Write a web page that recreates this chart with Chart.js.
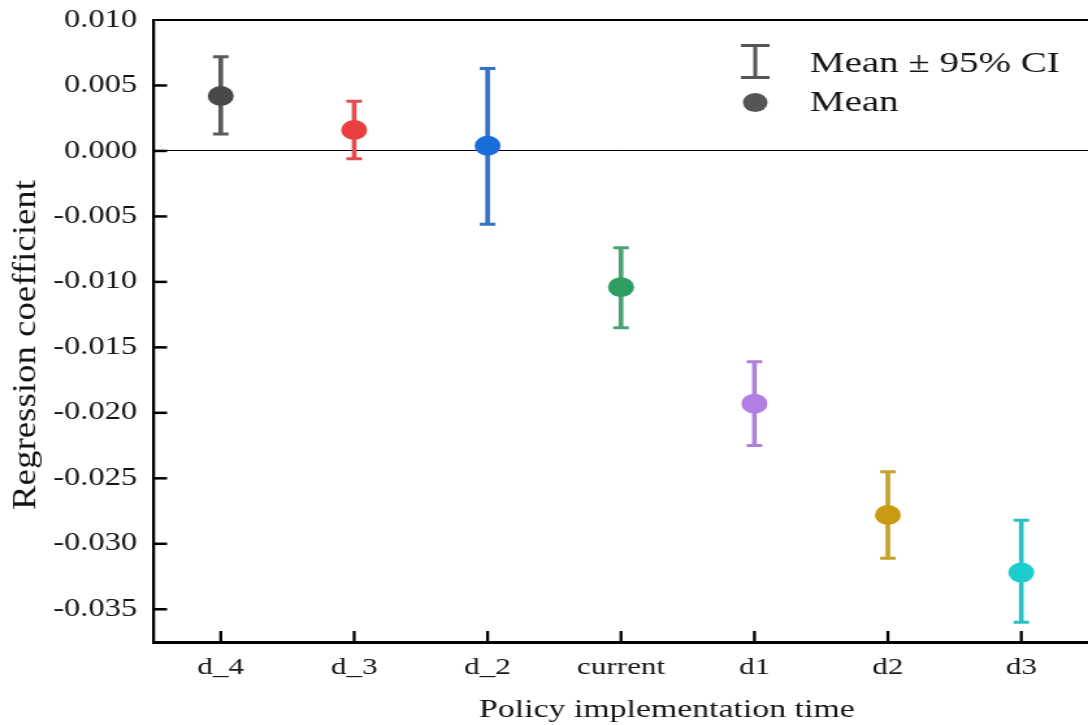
<!DOCTYPE html>
<html>
<head>
<meta charset="utf-8">
<script src="https://cdn.jsdelivr.net/npm/chart.js@4.4.1/dist/chart.umd.min.js"></script>
<style>
  html, body { margin: 0; padding: 0; background: #fff; overflow: hidden; }
  #chart { display: block; }
</style>
</head>
<body>
<!-- the reference is stretched sideways, so the canvas is drawn narrow and widened by its inline style -->
<canvas id="chart" width="837" height="725" style="width:1088px;height:725px"></canvas>
<script>
const categories = ['d_4', 'd_3', 'd_2', 'current', 'd1', 'd2', 'd3'];
const means  = [0.0042, 0.0016, 0.0004, -0.0104, -0.0193, -0.0278, -0.0322];
const ciLow  = [0.0013, -0.0006, -0.0056, -0.0135, -0.0225, -0.0311, -0.0360];
const ciHigh = [0.0072, 0.0038, 0.0063, -0.0074, -0.0161, -0.0245, -0.0282];
const yTicks = [0.010, 0.005, 0, -0.005, -0.010, -0.015, -0.020, -0.025, -0.030, -0.035];
const legendLabels = ['Mean \u00b1 95% CI', 'Mean'];
const xTitle = 'Policy implementation time';
const yTitle = 'Regression coefficient';

const dotColors = ['#494949', '#e8403f', '#1b6ddb', '#2e9e62', '#b27ee4', '#c99a12', '#1ccdcf'];
const barColors = ['#5a5a5a', '#e24c4c', '#3172c4', '#48a372', '#ae80da', '#c6a22a', '#2cc0c4'];

const FONT = "'Liberation Serif', 'Times New Roman', serif";
const INK = '#151515';

function line(ctx, x1, y1, x2, y2) {
    ctx.beginPath();
    ctx.moveTo(x1, y1);
    ctx.lineTo(x2, y2);
    ctx.stroke();
}

// inward ticks, axis titles and the legend
const decor = {
    id: 'decor',
    afterDraw(chart) {
        const { ctx, chartArea: area, scales: { x, y } } = chart;
        ctx.save();
        ctx.strokeStyle = '#000';
        ctx.lineCap = 'butt';

        ctx.lineWidth = 2.5;
        yTicks.forEach(v => {
            if (v === yTicks[0]) return;
            const py = y.getPixelForValue(v);
            line(ctx, area.left, py, area.left + 10, py);
        });
        ctx.lineWidth = 2.3;
        categories.forEach((c, i) => {
            const px = x.getPixelForTick(i);
            line(ctx, px, area.bottom, px, area.bottom - 11);
        });

        ctx.fillStyle = INK;
        ctx.textBaseline = 'alphabetic';

        // x title sits a bit right of the plot centre in the source
        ctx.font = `26px ${FONT}`;
        ctx.textAlign = 'center';
        ctx.fillText(xTitle, 513, 717);

        // y title, stretched along its length like the source
        ctx.save();
        ctx.font = `25px ${FONT}`;
        const w = ctx.measureText(yTitle).width;
        ctx.translate(26.5, 345);
        ctx.rotate(-Math.PI / 2);
        ctx.scale(330 / w, 1);
        ctx.fillText(yTitle, 0, 0);
        ctx.restore();

        // legend
        const lx = 581;
        ctx.strokeStyle = '#555';
        ctx.lineWidth = 3;
        line(ctx, lx, 44, lx, 79);
        line(ctx, lx - 11, 45.5, lx + 11, 45.5);
        line(ctx, lx - 11, 77.5, lx + 11, 77.5);
        ctx.fillStyle = '#555';
        ctx.beginPath();
        ctx.arc(lx, 102.5, 9.5, 0, Math.PI * 2);
        ctx.fill();

        ctx.fillStyle = INK;
        ctx.font = `30px ${FONT}`;
        ctx.textAlign = 'left';
        ctx.fillText(legendLabels[0], 623, 72);
        ctx.fillText(legendLabels[1], 623, 111);
        ctx.restore();
    }
};

new Chart(document.getElementById('chart'), {
    type: 'bar',
    data: {
        labels: categories,
        datasets: [
            {
                type: 'line',
                label: 'Mean',
                data: means,
                showLine: false,
                pointStyle: 'circle',
                pointRadius: 10,
                pointBorderWidth: 0,
                pointBackgroundColor: dotColors,
                order: 0,
            },
            {
                type: 'line',
                label: 'low',
                data: ciLow,
                showLine: false,
                pointStyle: 'line',
                pointRadius: 6,
                pointBorderWidth: 3,
                pointBorderColor: barColors,
                order: 1,
            },
            {
                type: 'line',
                label: 'high',
                data: ciHigh,
                showLine: false,
                pointStyle: 'line',
                pointRadius: 6,
                pointBorderWidth: 3,
                pointBorderColor: barColors,
                order: 1,
            },
            {
                type: 'bar',
                label: 'CI',
                data: categories.map((c, i) => [ciLow[i], ciHigh[i]]),
                backgroundColor: barColors,
                borderWidth: 0,
                barThickness: 3,
                order: 2,
            },
        ],
    },
    options: {
        responsive: false,
        devicePixelRatio: 1,
        animation: false,
        events: [],
        layout: { autoPadding: false, padding: { top: 20, right: 0, bottom: 0, left: 0 } },
        plugins: {
            legend: { display: false },
            tooltip: { enabled: false },
        },
        scales: {
            x: {
                type: 'category',
                offset: true,
                afterFit: s => { s.height = 83; s.paddingLeft = 0; s.paddingRight = 0; },
                grid: { display: false, drawTicks: false },
                border: { display: true, color: '#000', width: 3 },
                ticks: { color: INK, padding: 11, font: { family: FONT, size: 24 } },
            },
            y: {
                type: 'linear',
                min: -0.0375,
                max: 0.010,
                afterBuildTicks: s => { s.ticks = yTicks.slice().reverse().map(v => ({ value: v })); },
                afterFit: s => { s.width = 118.5; s.paddingTop = 0; s.paddingBottom = 0; },
                grid: {
                    drawTicks: false,
                    color: c => (c.tick && (c.tick.value === 0 || c.tick.value === 0.01)) ? '#000' : 'rgba(0,0,0,0)',
                    lineWidth: c => (c.tick && c.tick.value === 0.01) ? 2 : 1,
                },
                border: { display: true, color: '#000', width: 2.3 },
                ticks: {
                    color: INK,
                    padding: 13,
                    font: { family: FONT, size: 25 },
                    callback: v => v.toFixed(3),
                },
            },
        },
    },
    plugins: [decor],
});
</script>
</body>
</html>
